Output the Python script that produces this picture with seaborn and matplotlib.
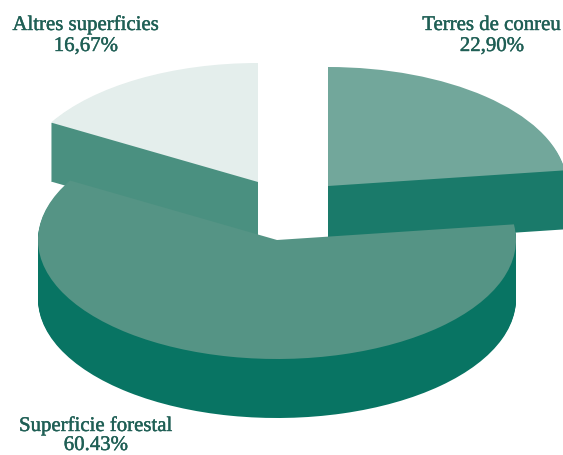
import numpy as np
import matplotlib
matplotlib.use('Agg')
import matplotlib.pyplot as plt
import matplotlib.patheffects as pe
import seaborn as sns

# data
categories = ['Terres de conreu', 'Superficie forestal', 'Altres superficies']
shares = [22.90, 60.43, 16.67]
share_labels = ['22,90%', '60.43%', '16,67%']

top_colors = ['#72a79b', '#559485', '#e4eeec']
wall_colors = ['#1a7a6a', '#087463', '#4a9080']
text_color = '#1f5f55'

# pixel layout of the picture
W, H = 563, 456
RX, RY = 239, 119
DEPTH = 59
squash = RX / RY

centers = [(328, 187), (277, 241), (258, 183)]
label_pos = [(492, 31, 52), (96, 432, 451), (86, 31, 52)]
draw_order = [2, 0, 1]

sns.set_theme(style='white')
plt.rcParams['font.family'] = ['Liberation Serif', 'DejaVu Serif']

fig = plt.figure(figsize=(W / 100, H / 100), dpi=100)
ax = fig.add_axes([0, 0, 1, 1])


def to_y(py):
    return (H - py) * squash


def one_slice(i, color, px, py):
    # full pie each time so the angles come from the shares, only slice i is painted
    colors = ['none'] * len(shares)
    colors[i] = color
    ax.pie(shares, colors=colors, startangle=90, counterclock=False, radius=RX,
           center=(px, to_y(py)), wedgeprops={'linewidth': 0})


for i in draw_order:
    cx, cy = centers[i]
    for d in range(DEPTH, 0, -1):
        one_slice(i, wall_colors[i], cx, cy + d)
    one_slice(i, top_colors[i], cx, cy)

# a thin stroke, the original lettering is heavier than Liberation Serif
heavy = [pe.withStroke(linewidth=0.3, foreground=text_color)]
for i in range(len(categories)):
    x, y1, y2 = label_pos[i]
    ax.text(x, to_y(y1), categories[i], ha='center', va='baseline', fontsize=15,
            color=text_color, path_effects=heavy)
    ax.text(x, to_y(y2), share_labels[i], ha='center', va='baseline', fontsize=15,
            color=text_color, path_effects=heavy)

ax.set_aspect('auto')
ax.set_xlim(0, W)
ax.set_ylim(0, H * squash)
ax.axis('off')

fig.savefig('out.png', dpi=100)
